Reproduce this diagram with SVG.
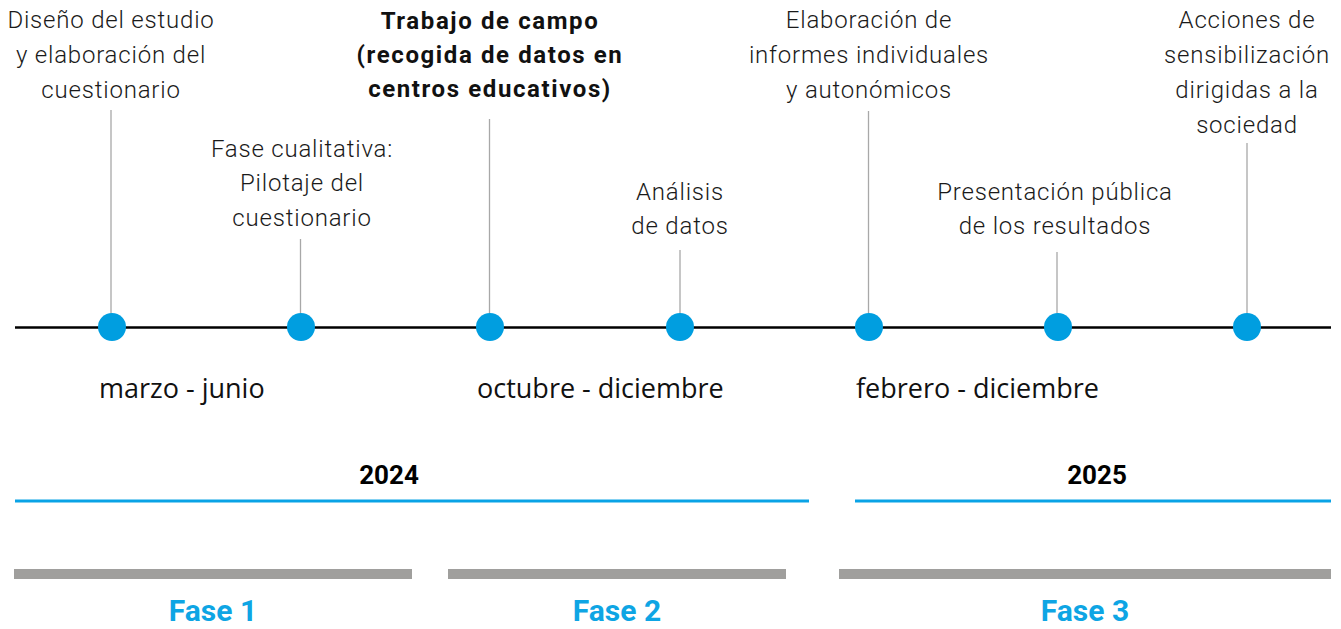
<svg xmlns="http://www.w3.org/2000/svg" width="1341" height="629" viewBox="0 0 1341 629">
<style>
.lbl{font-family:Roboto,"Liberation Sans",sans-serif;font-weight:300;font-size:24px;fill:#1a1a1a;text-anchor:middle;letter-spacing:0.8px}
.bold{font-family:Roboto,"Liberation Sans",sans-serif;font-weight:700;font-size:24px;fill:#111;text-anchor:middle;letter-spacing:1.6px}
.date{font-family:"Open Sans","Liberation Sans",sans-serif;font-size:27px;fill:#111}
.year{font-family:Roboto,"Liberation Sans",sans-serif;font-weight:700;font-size:26px;fill:#000;text-anchor:middle}
.fase{font-family:Roboto,"Liberation Sans",sans-serif;font-weight:700;font-size:30px;fill:#0ea5e4;text-anchor:middle}
.stem{stroke:#a8a8a8;stroke-width:1.3}
.dot{fill:#009ee0}
.yr{stroke:#0aa3e6;stroke-width:3}
.bar{fill:#a09f9d}
</style>
<rect width="1341" height="629" fill="#fff"/>
<g id="connectors">
<line x1="15" y1="327.5" x2="1331" y2="327.5" stroke="#000" stroke-width="2.6"/>
<line class="stem" x1="111" y1="110" x2="111" y2="327"/>
<line class="stem" x1="300.5" y1="239" x2="300.5" y2="327"/>
<line class="stem" x1="489.5" y1="119" x2="489.5" y2="327"/>
<line class="stem" x1="680" y1="250" x2="680" y2="327"/>
<line class="stem" x1="868.5" y1="111" x2="868.5" y2="327"/>
<line class="stem" x1="1057" y1="252" x2="1057" y2="327"/>
<line class="stem" x1="1247" y1="143" x2="1247" y2="327"/>
</g>
<g id="n1"><circle class="dot" cx="112" cy="327" r="14"/>
<text class="lbl"><tspan x="111" y="28">Diseño del estudio</tspan><tspan x="111" y="63">y elaboración del</tspan><tspan x="111" y="98">cuestionario</tspan></text></g>
<g id="n2"><circle class="dot" cx="301" cy="327" r="14"/>
<text class="lbl"><tspan x="302" y="157">Fase cualitativa:</tspan><tspan x="302" y="191">Pilotaje del</tspan><tspan x="302" y="226">cuestionario</tspan></text></g>
<g id="n3"><circle class="dot" cx="490" cy="327" r="14"/>
<text class="bold"><tspan x="490" y="29">Trabajo de campo</tspan><tspan x="490" y="63">(recogida de datos en</tspan><tspan x="490" y="97">centros educativos)</tspan></text></g>
<g id="n4"><circle class="dot" cx="680" cy="327" r="14"/>
<text class="lbl"><tspan x="680" y="200">Análisis</tspan><tspan x="680" y="234">de datos</tspan></text></g>
<g id="n5"><circle class="dot" cx="869" cy="327" r="14"/>
<text class="lbl"><tspan x="869" y="28">Elaboración de</tspan><tspan x="869" y="63">informes individuales</tspan><tspan x="869" y="98">y autonómicos</tspan></text></g>
<g id="n6"><circle class="dot" cx="1058" cy="327" r="14"/>
<text class="lbl"><tspan x="1055" y="200">Presentación pública</tspan><tspan x="1055" y="234">de los resultados</tspan></text></g>
<g id="n7"><circle class="dot" cx="1247" cy="327" r="14"/>
<text class="lbl"><tspan x="1247" y="28">Acciones de</tspan><tspan x="1247" y="63">sensibilización</tspan><tspan x="1247" y="98">dirigidas a la</tspan><tspan x="1247" y="133">sociedad</tspan></text></g>
<g id="dates">
<text class="date" x="99" y="398">marzo - junio</text>
<text class="date" x="477" y="398">octubre - diciembre</text>
<text class="date" x="856" y="398">febrero - diciembre</text>
</g>
<g id="years">
<text class="year" x="389" y="484">2024</text>
<line class="yr" x1="15" y1="501" x2="809" y2="501"/>
<text class="year" x="1097" y="484">2025</text>
<line class="yr" x1="855" y1="501" x2="1331" y2="501"/>
</g>
<g id="phases">
<rect class="bar" x="14" y="569" width="398" height="10"/>
<rect class="bar" x="448" y="569" width="338" height="10"/>
<rect class="bar" x="839" y="569" width="492" height="10"/>
<text class="fase" x="213" y="621">Fase 1</text>
<text class="fase" x="617" y="621">Fase 2</text>
<text class="fase" x="1085" y="621">Fase 3</text>
</g>
</svg>
